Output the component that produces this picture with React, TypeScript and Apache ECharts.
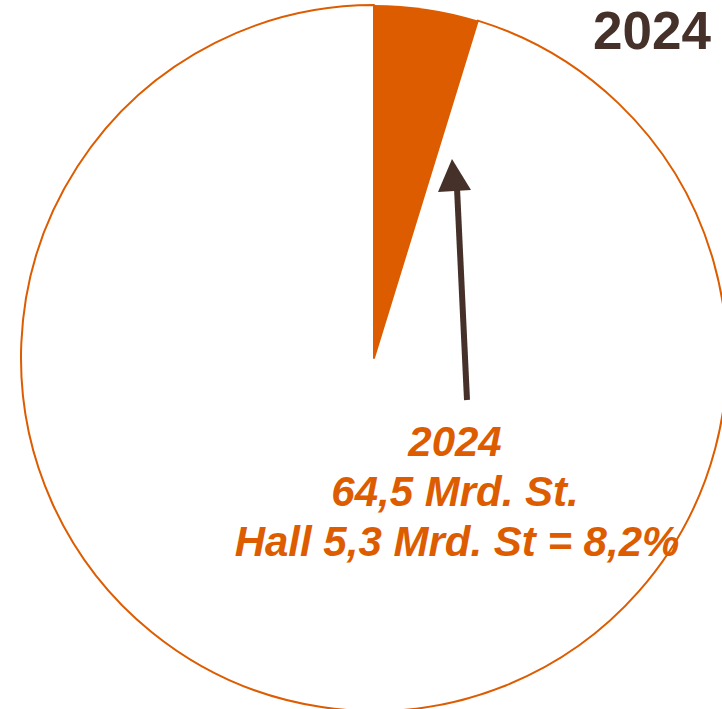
import React, { useEffect, useRef } from "react";
import * as echarts from "echarts";

const categories = ["Hall", "Rest"];
const sliceValues = [4.75, 95.25];
const sliceColors = ["#DD5C00", "#FFFFFF"];
const titleText = "2024";
const labelLines = ["2024", "64,5 Mrd. St.", "Hall 5,3 Mrd. St = 8,2%"];

export default function App() {
  const ref = useRef<HTMLDivElement>(null);
  useEffect(() => {
    const chart = echarts.init(ref.current!, undefined, { renderer: "svg" });
    const orange = "#DD5C00";
    const brown = "#46302A";
    chart.setOption({
      animation: false,
      backgroundColor: "#FFFFFF",
      series: [
        {
          type: "pie",
          center: [374, 358],
          radius: [0, 353],
          startAngle: 90,
          clockwise: true,
          silent: true,
          z: 1,
          label: { show: false },
          labelLine: { show: false },
          data: categories.map((c, i) => ({
            name: c,
            value: sliceValues[i],
            itemStyle: {
              color: sliceColors[i],
              borderColor: orange,
              borderWidth: i === 0 ? 0 : 2,
            },
          })),
        },
      ],
      graphic: {
        elements: [
          {
            type: "text",
            left: 593,
            top: 4,
            z: 100,
            style: {
              text: titleText,
              fill: brown,
              font: "bold 53px 'Liberation Sans', Arial, sans-serif",
            },
          },
          {
            type: "line",
            z: 100,
            shape: { x1: 467, y1: 400, x2: 457, y2: 188 },
            style: { stroke: brown, lineWidth: 6 },
          },
          {
            type: "polygon",
            z: 100,
            shape: { points: [[452, 159], [438, 192], [471, 190]] },
            style: { fill: brown },
          },
          ...labelLines.map((t, i) => ({
            type: "text",
            z: 100,
            x: i === 2 ? 457 : 455,
            y: 441 + i * 50,
            style: {
              text: t,
              fill: orange,
              textAlign: "center",
              textVerticalAlign: "middle",
              font: "italic bold 42px 'Liberation Sans', Arial, sans-serif",
            },
          })),
        ],
      },
    });
    return () => chart.dispose();
  }, []);
  return (
    <div
      ref={ref}
      style={{ position: "absolute", left: 0, top: 0, width: 722, height: 709 }}
    />
  );
}
